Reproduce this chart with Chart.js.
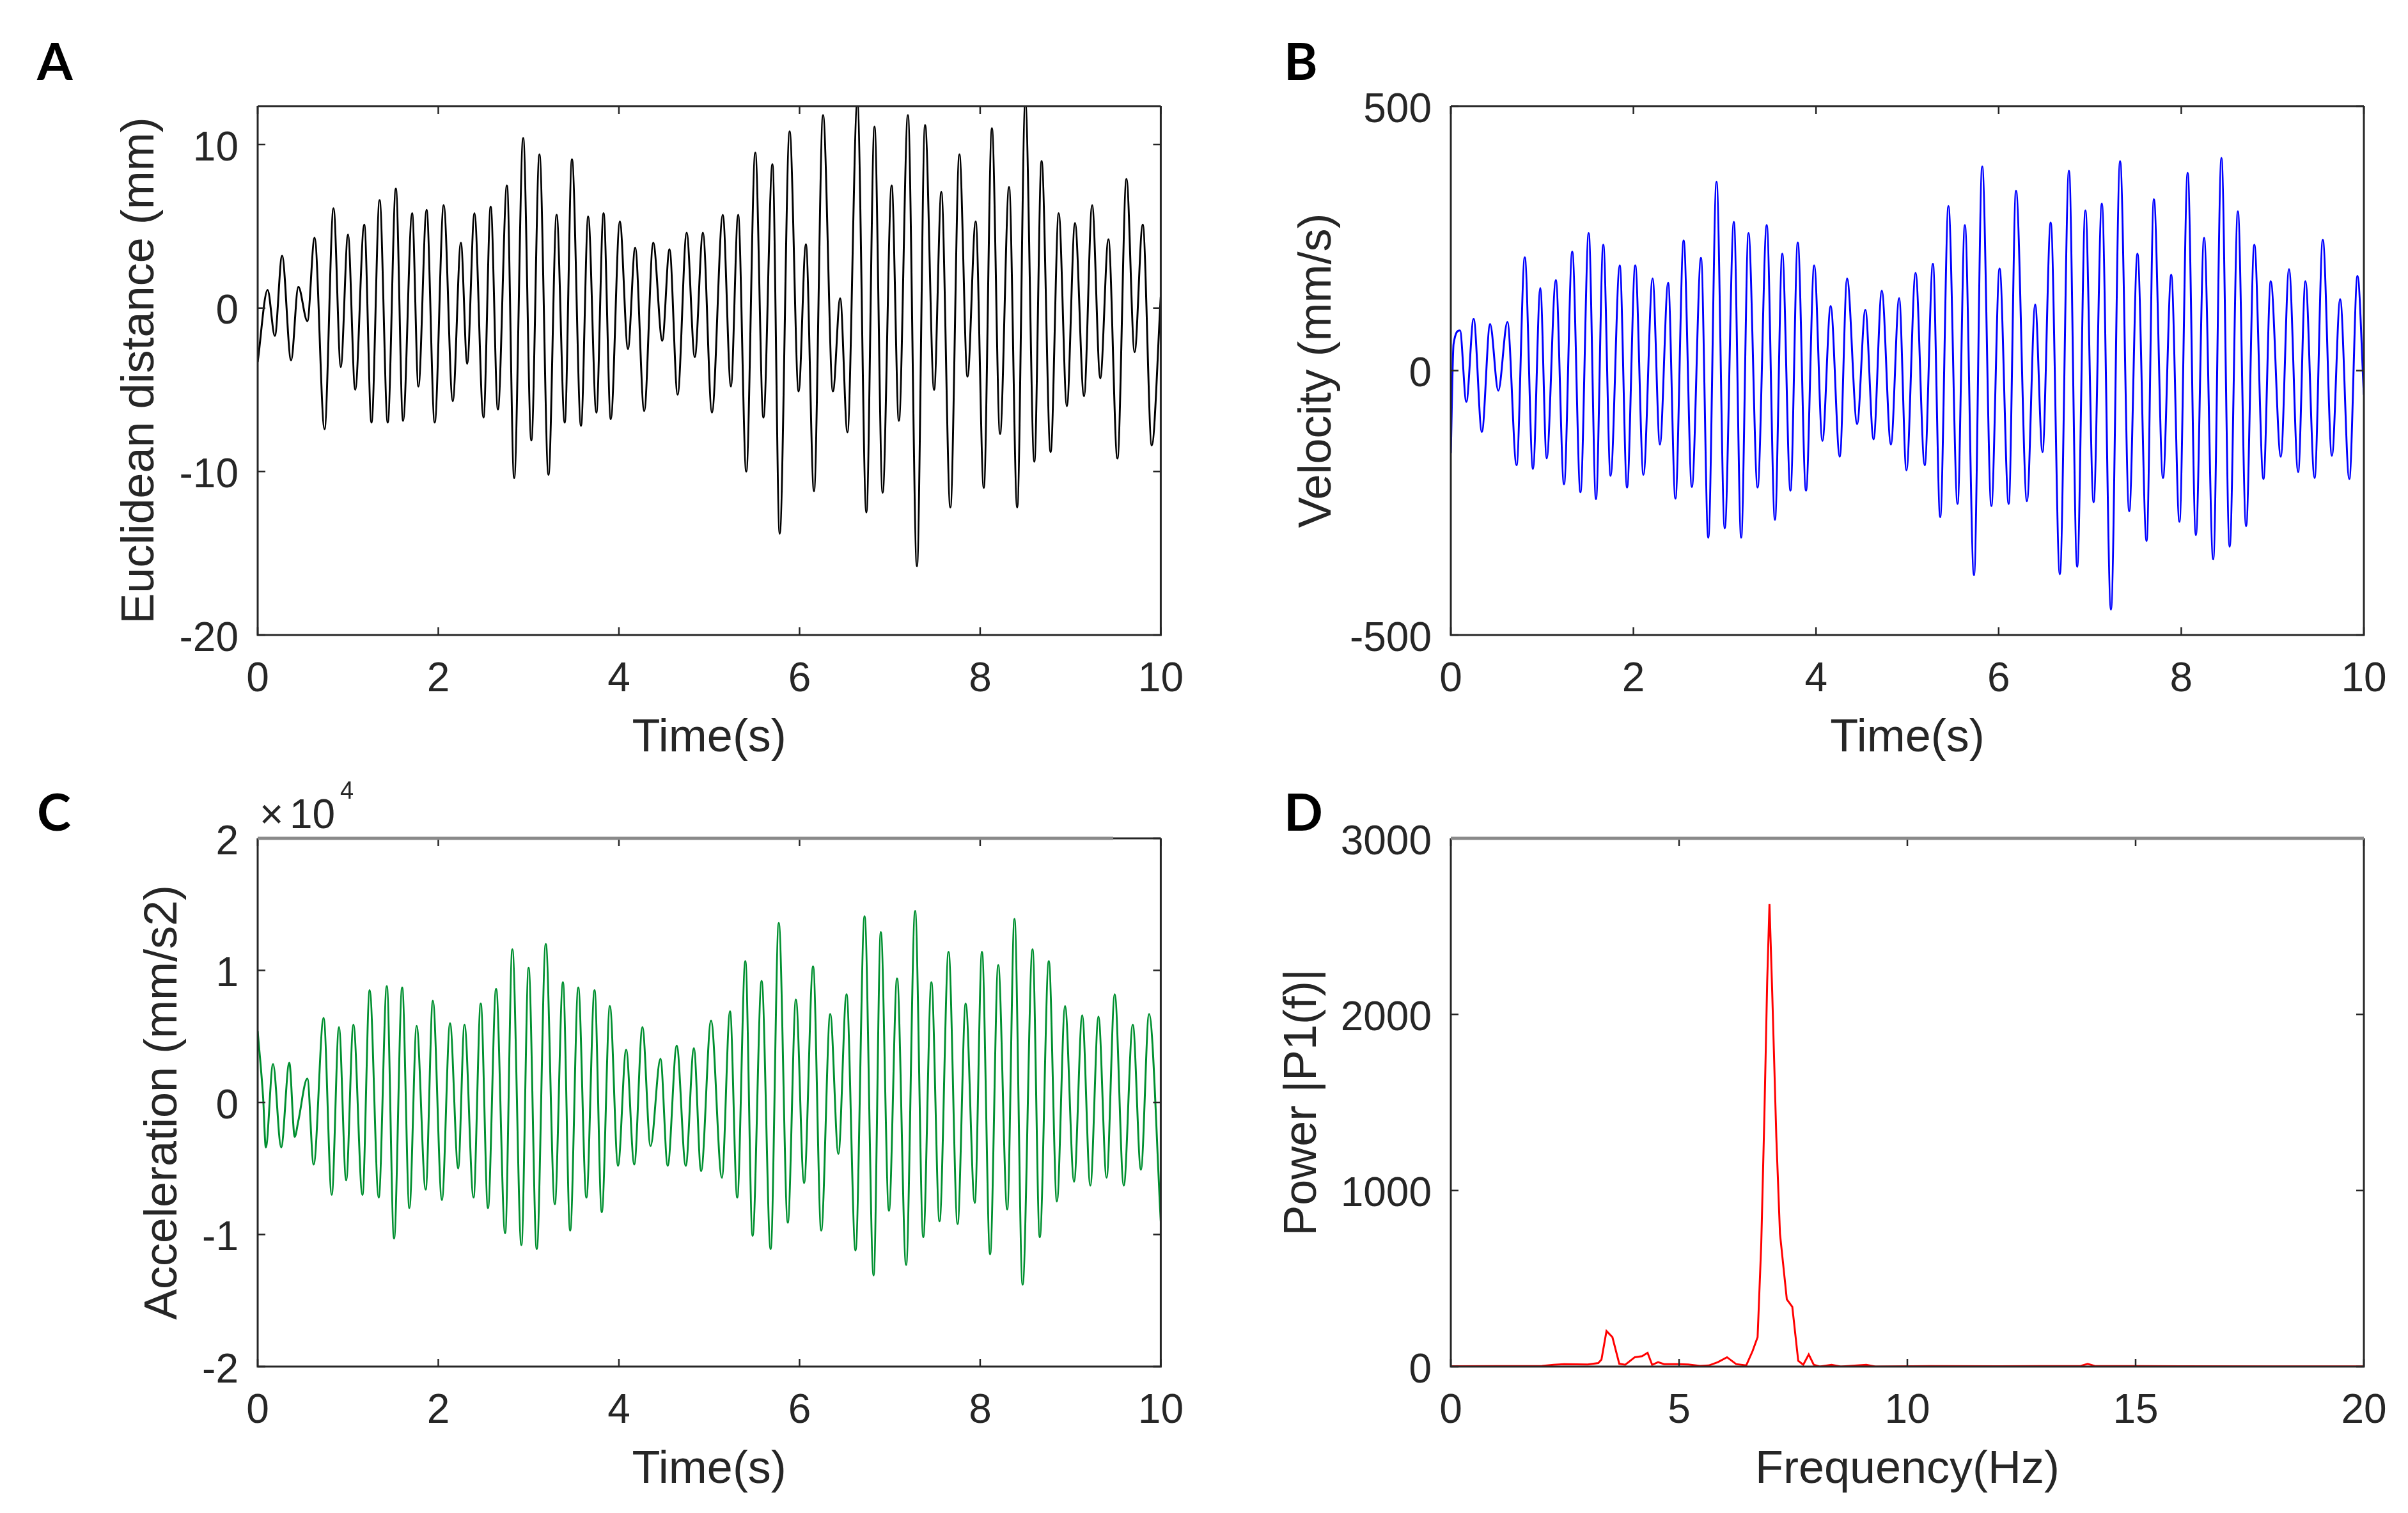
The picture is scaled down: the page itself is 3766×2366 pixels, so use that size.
<!DOCTYPE html>
<html>
<head>
<meta charset="utf-8">
<script src="https://cdn.jsdelivr.net/npm/chart.js@4.4.1/dist/chart.umd.min.js"></script>
<style>
  html, body { margin: 0; padding: 0; background: #fff; }
  #page { position: relative; width: 3766px; height: 2366px; background: #fff; overflow: hidden; }
  canvas { position: absolute; }
  .tag { position: absolute; font-family: Lato, 'Open Sans', sans-serif; font-weight: 700; font-size: 80px; line-height: 1; color: #000; }
</style>
</head>
<body>
<div id="page">
  <canvas id="chartA" style="left:0;top:0"></canvas>
  <canvas id="chartB" style="left:1883px;top:0"></canvas>
  <canvas id="chartC" style="left:0;top:1183px"></canvas>
  <canvas id="chartD" style="left:1883px;top:1183px"></canvas>
  <div class="tag" style="left:58px;top:54px">A</div>
  <div class="tag" style="left:2008px;top:54px">B</div>
  <div class="tag" style="left:58px;top:1228px">C</div>
  <div class="tag" style="left:2008px;top:1228px">D</div>
</div>
<script>
// peaks and troughs, seconds / value
const timeA = [0, 0.11, 0.19, 0.27, 0.37, 0.45, 0.55, 0.63, 0.74, 0.84, 0.92, 1.00, 1.08, 1.18, 1.26, 1.35, 1.44, 1.53, 1.61, 1.71, 1.78, 1.87, 1.96, 2.06, 2.16, 2.25, 2.32, 2.40, 2.50, 2.58, 2.66, 2.76, 2.84, 2.94, 3.03, 3.12, 3.22, 3.31, 3.40, 3.48, 3.58, 3.66, 3.75, 3.83, 3.91, 4.01, 4.10, 4.18, 4.28, 4.38, 4.48, 4.56, 4.65, 4.75, 4.84, 4.93, 5.03, 5.15, 5.24, 5.32, 5.41, 5.51, 5.60, 5.70, 5.78, 5.89, 5.99, 6.07, 6.16, 6.26, 6.37, 6.45, 6.53, 6.64, 6.74, 6.83, 6.92, 7.02, 7.10, 7.20, 7.30, 7.39, 7.49, 7.57, 7.67, 7.77, 7.86, 7.95, 8.04, 8.13, 8.22, 8.32, 8.41, 8.50, 8.60, 8.68, 8.78, 8.87, 8.96, 9.05, 9.15, 9.24, 9.33, 9.42, 9.52, 9.62, 9.71, 9.80, 9.90, 10.0];
const distA = [-3.3, 1.1, -1.7, 3.2, -3.2, 1.3, -0.8, 4.3, -7.4, 6.1, -3.6, 4.5, -5.0, 5.1, -7.0, 6.6, -7.0, 7.3, -6.9, 5.8, -4.8, 6.0, -7.0, 6.3, -5.7, 4.0, -3.4, 5.8, -6.7, 6.2, -6.2, 7.5, -10.4, 10.4, -8.1, 9.4, -10.2, 5.7, -7.0, 9.1, -7.2, 5.6, -6.4, 5.8, -6.8, 5.3, -2.5, 3.7, -6.3, 4.0, -2.0, 3.6, -5.3, 4.6, -3.0, 4.6, -6.4, 5.7, -4.8, 5.7, -10.0, 9.5, -6.7, 8.8, -13.8, 10.8, -5.1, 3.9, -11.2, 11.8, -5.1, 0.6, -7.6, 12.6, -12.5, 11.1, -11.3, 7.5, -6.9, 11.8, -15.8, 11.2, -5.0, 7.1, -12.2, 9.4, -4.2, 5.3, -11.0, 11.0, -7.7, 7.4, -12.2, 12.6, -9.4, 9.0, -8.8, 5.8, -6.0, 5.2, -5.4, 6.3, -4.3, 4.2, -9.2, 7.9, -2.7, 5.1, -8.4, 0.7];

const timeB = [0, 0.03, 0.10, 0.17, 0.25, 0.34, 0.43, 0.52, 0.62, 0.72, 0.81, 0.90, 0.98, 1.05, 1.15, 1.24, 1.33, 1.42, 1.51, 1.59, 1.67, 1.75, 1.85, 1.93, 2.02, 2.11, 2.21, 2.29, 2.38, 2.46, 2.55, 2.64, 2.74, 2.82, 2.91, 3.00, 3.10, 3.18, 3.26, 3.36, 3.46, 3.55, 3.63, 3.72, 3.80, 3.89, 3.98, 4.07, 4.16, 4.26, 4.34, 4.45, 4.54, 4.63, 4.72, 4.82, 4.91, 4.99, 5.09, 5.19, 5.28, 5.36, 5.45, 5.55, 5.63, 5.73, 5.82, 5.92, 6.01, 6.11, 6.19, 6.31, 6.40, 6.48, 6.57, 6.67, 6.77, 6.86, 6.95, 7.04, 7.13, 7.23, 7.33, 7.43, 7.52, 7.62, 7.70, 7.80, 7.89, 7.98, 8.07, 8.16, 8.25, 8.35, 8.44, 8.53, 8.62, 8.71, 8.80, 8.90, 8.98, 9.09, 9.18, 9.28, 9.36, 9.46, 9.55, 9.65, 9.74, 9.84, 9.93, 10.0];
const velB = [-156, 50, 76, -59, 98, -116, 88, -38, 92, -179, 214, -186, 156, -166, 171, -215, 225, -230, 260, -243, 238, -199, 199, -221, 199, -197, 174, -140, 166, -242, 246, -220, 213, -316, 357, -298, 281, -316, 260, -221, 275, -282, 221, -227, 242, -227, 199, -133, 122, -163, 174, -101, 115, -130, 151, -140, 137, -189, 185, -179, 202, -277, 311, -252, 275, -387, 386, -256, 193, -252, 340, -247, 125, -154, 280, -385, 378, -371, 303, -249, 316, -452, 396, -266, 221, -322, 324, -203, 181, -286, 374, -311, 251, -357, 402, -333, 301, -294, 238, -205, 169, -163, 192, -192, 169, -203, 247, -161, 135, -205, 179, -46];

const timeC = [0, 0.06, 0.09, 0.17, 0.26, 0.35, 0.41, 0.45, 0.55, 0.62, 0.73, 0.82, 0.90, 0.98, 1.06, 1.16, 1.24, 1.34, 1.43, 1.51, 1.60, 1.68, 1.76, 1.86, 1.94, 2.04, 2.13, 2.22, 2.29, 2.39, 2.47, 2.55, 2.64, 2.74, 2.82, 2.92, 3.00, 3.09, 3.19, 3.29, 3.38, 3.46, 3.55, 3.64, 3.73, 3.81, 3.90, 3.99, 4.08, 4.17, 4.26, 4.35, 4.46, 4.54, 4.64, 4.74, 4.83, 4.91, 5.02, 5.14, 5.23, 5.31, 5.40, 5.48, 5.58, 5.68, 5.77, 5.87, 5.96, 6.05, 6.15, 6.24, 6.34, 6.43, 6.52, 6.62, 6.72, 6.82, 6.90, 6.99, 7.08, 7.18, 7.28, 7.37, 7.46, 7.55, 7.65, 7.75, 7.84, 7.94, 8.02, 8.11, 8.20, 8.30, 8.38, 8.47, 8.58, 8.66, 8.76, 8.85, 8.94, 9.04, 9.13, 9.22, 9.31, 9.40, 9.49, 9.59, 9.69, 9.78, 9.87, 10.0];
const accC = [5400, 400, -3400, 2900, -3400, 3000, -2600, -1400, 1800, -4700, 6400, -7000, 5700, -5900, 5900, -7000, 8500, -7200, 8800, -10300, 8700, -8000, 5800, -6600, 7700, -7400, 6000, -5000, 5900, -7200, 7500, -8000, 8600, -9900, 11600, -10800, 10200, -11100, 12000, -7700, 9100, -9700, 8700, -7200, 8500, -8300, 7300, -4800, 4000, -4700, 5700, -3300, 3300, -4800, 4300, -4800, 4100, -5200, 6200, -5700, 6900, -7200, 10700, -10100, 9200, -11100, 13600, -9100, 7800, -6100, 10300, -9700, 6700, -3900, 8200, -11200, 14100, -13100, 12900, -8200, 9400, -12300, 14500, -10200, 9100, -9000, 11400, -9200, 7500, -7600, 11400, -11500, 10400, -8100, 13900, -13800, 11600, -10200, 10700, -7500, 7300, -6000, 6600, -6300, 6500, -5700, 8200, -6300, 5900, -5100, 6700, -9000];

const freqD = [0, 1.0, 2.0, 2.25, 2.48, 3.0, 3.23, 3.30, 3.41, 3.54, 3.69, 3.82, 4.03, 4.19, 4.31, 4.41, 4.54, 4.67, 5.0, 5.2, 5.46, 5.65, 5.85, 6.05, 6.25, 6.47, 6.61, 6.72, 6.80, 6.87, 6.93, 6.98, 7.04, 7.13, 7.21, 7.36, 7.48, 7.61, 7.72, 7.84, 7.95, 8.08, 8.34, 8.54, 9.1, 9.3, 10.5, 12.0, 13.8, 13.95, 14.1, 16.0, 18.0, 20.0];
const powerD = [2, 3, 4, 10, 14, 12, 20, 40, 202, 167, 16, 10, 53, 59, 78, 10, 25, 14, 14, 12, 4, 6, 25, 53, 14, 6, 88, 167, 696, 1441, 2186, 2627, 2127, 1304, 755, 382, 339, 33, 10, 69, 10, 0, 10, 0, 10, 0, 3, 2, 4, 15, 4, 2, 1, 1];

// tick labels
const timeTicks = [0, 2, 4, 6, 8, 10];
const freqTicks = [0, 5, 10, 15, 20];
const yTicksA = [-20, -10, 0, 10];
const yTicksB = [-500, 0, 500];
const yTicksC = [-20000, -10000, 0, 10000, 20000];
const yTicksD = [0, 1000, 2000, 3000];

const axisColor = '#262626';
const fontFamily = "'Liberation Sans', Arial, sans-serif";

Chart.defaults.font.family = fontFamily;
Chart.defaults.color = axisColor;

function points(xs, ys) {
	return xs.map((x, i) => ({ x: x, y: ys[i] }));
}

// matlab style box with inward ticks on all four sides
const framePlugin = {
	id: 'frame',
	afterDatasetsDraw(chart, args, opts) {
		const { ctx, chartArea: a } = chart;
		const x = chart.scales.x;
		const y = chart.scales.y;
		const tl = 12;
		ctx.save();
		ctx.strokeStyle = axisColor;
		ctx.lineWidth = 2.5;
		ctx.beginPath();
		x.ticks.forEach((t) => {
			const px = x.getPixelForValue(t.value);
			ctx.moveTo(px, a.bottom);
			ctx.lineTo(px, a.bottom - tl);
			ctx.moveTo(px, a.top);
			ctx.lineTo(px, a.top + tl);
		});
		y.ticks.forEach((t) => {
			const py = y.getPixelForValue(t.value);
			ctx.moveTo(a.left, py);
			ctx.lineTo(a.left + tl, py);
			ctx.moveTo(a.right, py);
			ctx.lineTo(a.right - tl, py);
		});
		ctx.stroke();
		ctx.lineWidth = 3;
		ctx.beginPath();
		ctx.moveTo(a.left, a.top);
		ctx.lineTo(a.left, a.bottom);
		ctx.lineTo(a.right, a.bottom);
		ctx.lineTo(a.right, a.top);
		ctx.stroke();
		// top edge, partly greyed like the exported figure
		const greyTo = opts.greyTo == null ? a.left : opts.greyTo;
		if (greyTo > a.left) {
			ctx.strokeStyle = '#8a8a8a';
			ctx.lineWidth = 5;
			ctx.beginPath();
			ctx.moveTo(a.left, a.top);
			ctx.lineTo(greyTo, a.top);
			ctx.stroke();
		}
		if (greyTo < a.right) {
			ctx.strokeStyle = axisColor;
			ctx.lineWidth = 3;
			ctx.beginPath();
			ctx.moveTo(greyTo, a.top);
			ctx.lineTo(a.right, a.top);
			ctx.stroke();
		}
		ctx.restore();
	},
};

// "x10^4" exponent label above panel C
const exponentPlugin = {
	id: 'exponent',
	afterDraw(chart) {
		const { ctx, chartArea: a } = chart;
		ctx.save();
		ctx.fillStyle = axisColor;
		ctx.textBaseline = 'alphabetic';
		ctx.textAlign = 'left';
		ctx.font = `64px ${fontFamily}`;
		ctx.fillText('\u00d7', a.left + 3, a.top - 16);
		ctx.fillText('10', a.left + 50, a.top - 16);
		ctx.font = `38px ${fontFamily}`;
		ctx.fillText('4', a.left + 129, a.top - 62);
		ctx.restore();
	},
};

function makeChart(id, cfg) {
	const canvas = document.getElementById(id);
	canvas.width = cfg.width;
	canvas.height = cfg.height;
	canvas.style.width = cfg.width + 'px';
	canvas.style.height = cfg.height + 'px';
	return new Chart(canvas.getContext('2d'), {
		type: 'line',
		data: {
			datasets: [
				{
					data: cfg.data,
					borderColor: cfg.color,
					borderWidth: 3,
					pointRadius: 0,
					fill: false,
					cubicInterpolationMode: cfg.smooth ? 'monotone' : 'default',
					tension: 0,
				},
			],
		},
		plugins: cfg.extraPlugins ? [framePlugin].concat(cfg.extraPlugins) : [framePlugin],
		options: {
			responsive: false,
			animation: false,
			devicePixelRatio: 1,
			events: [],
			layout: {
				padding: { left: 0, top: cfg.top, right: cfg.right, bottom: 0 },
			},
			plugins: {
				legend: { display: false },
				tooltip: { enabled: false },
				frame: { greyTo: cfg.greyTo },
			},
			scales: {
				x: {
					type: 'linear',
					min: cfg.xMin,
					max: cfg.xMax,
					grid: { display: false, drawTicks: false },
					border: { display: false },
					afterBuildTicks: (s) => {
						s.ticks = cfg.xTicks.map((v) => ({ value: v }));
					},
					afterFit: (s) => {
						s.height = cfg.xHeight;
					},
					ticks: {
						autoSkip: false,
						maxRotation: 0,
						padding: 32,
						color: axisColor,
						font: { size: 64 },
						callback: (v) => String(v),
					},
					title: {
						display: true,
						text: cfg.xTitle,
						color: axisColor,
						font: { size: 72 },
						padding: { top: 0, bottom: cfg.xTitlePad },
					},
				},
				y: {
					type: 'linear',
					min: cfg.yMin,
					max: cfg.yMax,
					grid: { display: false, drawTicks: false },
					border: { display: false },
					afterBuildTicks: (s) => {
						s.ticks = cfg.yTicks.map((v) => ({ value: v }));
					},
					afterFit: (s) => {
						s.width = cfg.yWidth;
					},
					ticks: {
						autoSkip: false,
						padding: 30,
						labelOffset: 7,
						color: axisColor,
						font: { size: 64 },
						callback: cfg.yLabel || ((v) => String(v)),
					},
					title: {
						display: true,
						text: cfg.yTitle,
						color: axisColor,
						font: { size: 72 },
						padding: { top: cfg.yTitlePad, bottom: 0 },
					},
				},
			},
		},
	});
}

makeChart('chartA', {
	width: 1883, height: 1250, top: 166, right: 58, xHeight: 257, yWidth: 403,
	data: points(timeA, distA), color: '#000000', smooth: true,
	xMin: 0, xMax: 10, xTicks: timeTicks, xTitle: 'Time(s)', xTitlePad: 52,
	yMin: -20, yMax: 12.35, yTicks: yTicksA, yTitle: 'Euclidean distance (mm)', yTitlePad: 177,
});

makeChart('chartB', {
	width: 1883, height: 1250, top: 166, right: 69, xHeight: 257, yWidth: 386,
	data: points(timeB, velB), color: '#0000ff', smooth: true,
	xMin: 0, xMax: 10, xTicks: timeTicks, xTitle: 'Time(s)', xTitlePad: 52,
	yMin: -500, yMax: 500, yTicks: yTicksB, yTitle: 'Velocity (mm/s)', yTitlePad: 135,
});

makeChart('chartC', {
	width: 1883, height: 1183, top: 128, right: 58, xHeight: 229, yWidth: 403,
	data: points(timeC, accC), color: '#009030', smooth: true,
	xMin: 0, xMax: 10, xTicks: timeTicks, xTitle: 'Time(s)', xTitlePad: 24,
	yMin: -20000, yMax: 20000, yTicks: yTicksC, yTitle: 'Acceleration (mm/s2)', yTitlePad: 213,
	yLabel: (v) => String(v / 10000),
	greyTo: 1741,
	extraPlugins: [exponentPlugin],
});

makeChart('chartD', {
	width: 1883, height: 1183, top: 128, right: 69, xHeight: 229, yWidth: 386,
	data: points(freqD, powerD), color: '#ff0000', smooth: false,
	xMin: 0, xMax: 20, xTicks: freqTicks, xTitle: 'Frequency(Hz)', xTitlePad: 24,
	yMin: 0, yMax: 3000, yTicks: yTicksD, yTitle: 'Power |P1(f)|', yTitlePad: 112,
	greyTo: 1814,
});
</script>
</body>
</html>
